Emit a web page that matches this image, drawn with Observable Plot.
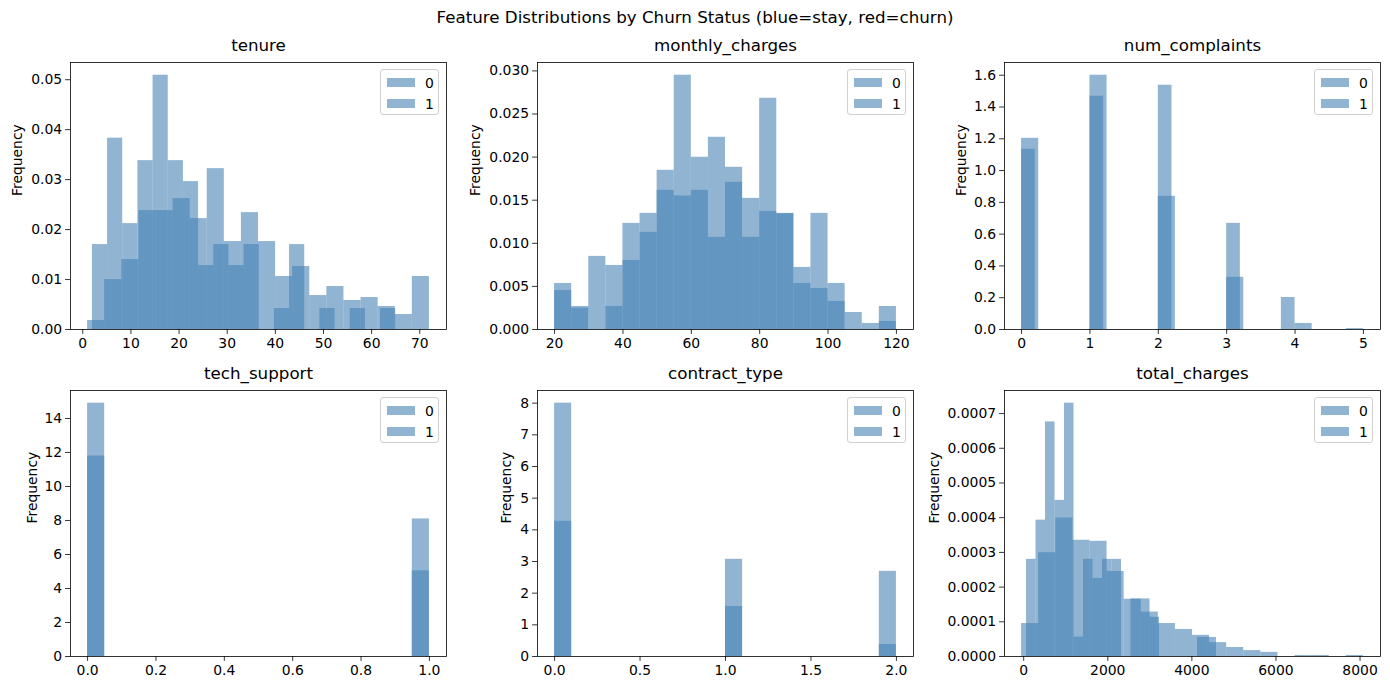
<!DOCTYPE html>
<html><head><meta charset="utf-8">
<script src="https://cdn.jsdelivr.net/npm/d3@7"></script>
<script src="https://cdn.jsdelivr.net/npm/@observablehq/plot@0.6"></script>
<style>
body{margin:0;background:#fff;font-family:"DejaVu Sans",sans-serif;}
#root{position:relative;width:1390px;height:690px;overflow:hidden;background:#fff;}
#root svg{position:absolute;overflow:visible;}
.suptitle{position:absolute;left:0;width:1390px;top:6px;text-align:center;font-size:16.7px;line-height:22px;color:#000;}
.legend{position:absolute;box-sizing:border-box;width:59px;height:46px;border:1px solid #d0d0d0;border-radius:3px;background:rgba(255,255,255,0.8);font-size:13.9px;color:#000;}
.legend .patch{position:absolute;left:6px;width:27.7px;height:9.7px;background:rgba(70,130,180,0.6);}
.legend .lab{position:absolute;left:44px;line-height:16px;}
</style></head><body><div id="root"><div class="suptitle">Feature Distributions by Churn Status (blue=stay, red=churn)</div></div>
<script>
// ---- data (histogram densities, 20 bins per series, over each series' own range) ----
const seriesLabels = ["0", "1"];

const tenureStayRange = [1, 72];
const tenureStay = [0.0018, 0.0100, 0.0140, 0.0238, 0.0238, 0.0262, 0.0222, 0.0322, 0.0176, 0.0234,
                    0.0176, 0.0106, 0.0126, 0.0068, 0.0086, 0.0058, 0.0064, 0.0046, 0.0030, 0.0106];
const tenureChurnRange = [2, 65];
const tenureChurn = [0.0170, 0.0383, 0.0212, 0.0338, 0.0509, 0.0338, 0.0296, 0.0128, 0.0170, 0.0128,
                     0.0170, 0, 0.0042, 0.0170, 0, 0.0042, 0, 0.0042, 0, 0.0042];

const monthlyStayRange = [20, 120];
const monthlyStay = [0.00534, 0.00267, 0.00848, 0.00743, 0.01231, 0.01347, 0.01847, 0.01549, 0.01998, 0.01069,
                     0.01882, 0.01521, 0.01370, 0.01347, 0.00720, 0.00476, 0.00534, 0.00197, 0.00070, 0.00093];
const monthlyChurnRange = [20, 120];
const monthlyChurn = [0.00453, 0.00248, 0, 0.00267, 0.00801, 0.01127, 0.01614, 0.02950, 0.01614, 0.02230,
                      0.01707, 0.01069, 0.02683, 0.01343, 0.00534, 0.01347, 0.00325, 0, 0, 0.00267];

const complaintsStayRange = [0, 5];
const complaintsStay = [1.203, 0, 0, 0, 1.600, 0, 0, 0, 0.838, 0, 0, 0, 0.328, 0, 0, 0, 0.038, 0, 0, 0.006];
const complaintsChurnRange = [0, 4];
const complaintsChurn = [1.134, 0, 0, 0, 0, 1.468, 0, 0, 0, 0, 1.537, 0, 0, 0, 0, 0.668, 0, 0, 0, 0.2016];

const techStayRange = [0, 1];
const techStay = [11.79, 0, 0, 0, 0, 0, 0, 0, 0, 0, 0, 0, 0, 0, 0, 0, 0, 0, 0, 8.09];
const techChurnRange = [0, 1];
const techChurn = [14.90, 0, 0, 0, 0, 0, 0, 0, 0, 0, 0, 0, 0, 0, 0, 0, 0, 0, 0, 5.04];

const contractStayRange = [0, 2];
const contractStay = [4.27, 0, 0, 0, 0, 0, 0, 0, 0, 0, 3.07, 0, 0, 0, 0, 0, 0, 0, 0, 2.69];
const contractChurnRange = [0, 2];
const contractChurn = [8.00, 0, 0, 0, 0, 0, 0, 0, 0, 0, 1.58, 0, 0, 0, 0, 0, 0, 0, 0, 0.38];

const totalStayRange = [-50, 8080];
const totalStay = [0.000095, 0.000299, 0.000399, 0.000335, 0.000332, 0.000245, 0.000165, 0.000128, 0.000095, 0.000078,
                   0.000061, 0.000040, 0.000026, 0.000017, 0.000012, 0, 0.000003, 0.000003, 0, 0.000003];
const totalChurnRange = [67, 4586];
const totalChurn = [0.000280, 0.000393, 0.000676, 0.000450, 0.000730, 0.000056, 0.000280, 0.000225, 0.000280, 0.000280,
                    0, 0.000166, 0.000166, 0.000113, 0, 0, 0, 0, 0.000055, 0.000055];

// tick values
const tenureXTicks = [0, 10, 20, 30, 40, 50, 60, 70];
const tenureYTicks = [0, 0.01, 0.02, 0.03, 0.04, 0.05];
const monthlyXTicks = [20, 40, 60, 80, 100, 120];
const monthlyYTicks = [0, 0.005, 0.010, 0.015, 0.020, 0.025, 0.030];
const complaintsXTicks = [0, 1, 2, 3, 4, 5];
const complaintsYTicks = [0, 0.2, 0.4, 0.6, 0.8, 1.0, 1.2, 1.4, 1.6];
const techXTicks = [0, 0.2, 0.4, 0.6, 0.8, 1.0];
const techYTicks = [0, 2, 4, 6, 8, 10, 12, 14];
const contractXTicks = [0, 0.5, 1.0, 1.5, 2.0];
const contractYTicks = [0, 1, 2, 3, 4, 5, 6, 7, 8];
const totalXTicks = [0, 2000, 4000, 6000, 8000];
const totalYTicks = [0, 0.0001, 0.0002, 0.0003, 0.0004, 0.0005, 0.0006, 0.0007];

// ---- layout ----
const FW = 376;
const colLeft = [70, 537, 1004];
const rowTop = [62, 390];
const rowH = [267, 266];
const ML = 80, MR = 14, MT = 34, MB = 34;

const panels = [
  {title: "tenure", s: [[tenureStay, tenureStayRange], [tenureChurn, tenureChurnRange]], xt: tenureXTicks, xf: "d", yt: tenureYTicks, yf: ".2f", c: 0, r: 0, ldx: -53},
  {title: "monthly_charges", s: [[monthlyStay, monthlyStayRange], [monthlyChurn, monthlyChurnRange]], xt: monthlyXTicks, xf: "d", yt: monthlyYTicks, yf: ".3f", c: 1, r: 0, ldx: -62},
  {title: "num_complaints", s: [[complaintsStay, complaintsStayRange], [complaintsChurn, complaintsChurnRange]], xt: complaintsXTicks, xf: "d", yt: complaintsYTicks, yf: ".1f", c: 2, r: 0, ldx: -43},
  {title: "tech_support", s: [[techStay, techStayRange], [techChurn, techChurnRange]], xt: techXTicks, xf: ".1f", yt: techYTicks, yf: "d", c: 0, r: 1, ldx: -38},
  {title: "contract_type", s: [[contractStay, contractStayRange], [contractChurn, contractChurnRange]], xt: contractXTicks, xf: ".1f", yt: contractYTicks, yf: "d", c: 1, r: 1, ldx: -31},
  {title: "total_charges", s: [[totalStay, totalStayRange], [totalChurn, totalChurnRange]], xt: totalXTicks, xf: "d", yt: totalYTicks, yf: ".4f", c: 2, r: 1, ldx: -70}
];

function toBins(h, range, k) {
  const w = (range[1] - range[0]) / h.length;
  return h.map((v, i) => ({x1: range[0] + i * w, x2: range[0] + (i + 1) * w, h: v, k})).filter(d => d.h > 0);
}

const root = document.getElementById("root");
for (const p of panels) {
  const fh = rowH[p.r];
  const lo = d3.min(p.s, d => d[1][0]), hi = d3.max(p.s, d => d[1][1]);
  const pad = 0.05 * (hi - lo);
  const ymax = 1.05 * d3.max(p.s, d => d3.max(d[0]));
  const marks = [];
  p.s.forEach((ser, k) => {
    marks.push(Plot.rectY(toBins(ser[0], ser[1], k), {x1: "x1", x2: "x2", y1: 0, y2: "h", fill: "steelblue", fillOpacity: 0.6}));
  });
  marks.push(Plot.axisX(p.xt, {tickFormat: d3.format(p.xf), tickSize: 4.9, tickPadding: 3.5, label: null, stroke: "black", strokeWidth: 0.8}));
  marks.push(Plot.axisY(p.yt, {tickFormat: d3.format(p.yf), tickSize: 4.9, tickPadding: 3.5, label: null, stroke: "black", strokeWidth: 0.8}));
  marks.push(Plot.frame({stroke: "black", strokeWidth: 0.8}));
  marks.push(Plot.text(["Frequency"], {frameAnchor: "left", dx: p.ldx, rotate: -90, fontSize: 13.9, fill: "black"}));
  marks.push(Plot.text([p.title], {frameAnchor: "top", dy: -11.3, lineAnchor: "bottom", fontSize: 16.7, fill: "black"}));
  const svg = Plot.plot({
    width: ML + FW + MR, height: MT + fh + MB,
    marginLeft: ML, marginRight: MR, marginTop: MT, marginBottom: MB,
    style: {fontFamily: "DejaVu Sans", fontSize: "13.9px", color: "black", background: "transparent", overflow: "visible"},
    x: {domain: [lo - pad, hi + pad]},
    y: {domain: [0, ymax]},
    marks
  });
  svg.style.left = (colLeft[p.c] - ML) + "px";
  svg.style.top = (rowTop[p.r] - MT) + "px";
  root.appendChild(svg);
  // legend
  const lg = document.createElement("div");
  lg.className = "legend";
  lg.style.left = (colLeft[p.c] + FW - 7 - 59) + "px";
  lg.style.top = (rowTop[p.r] + 7) + "px";
  seriesLabels.forEach((lab, i) => {
    const pt = document.createElement("div");
    pt.className = "patch";
    pt.style.top = (7.5 + 21 * i) + "px";
    lg.appendChild(pt);
    const tx = document.createElement("div");
    tx.className = "lab";
    tx.style.top = (4.5 + 21 * i) + "px";
    tx.textContent = lab;
    lg.appendChild(tx);
  });
  root.appendChild(lg);
}
</script></body></html>
